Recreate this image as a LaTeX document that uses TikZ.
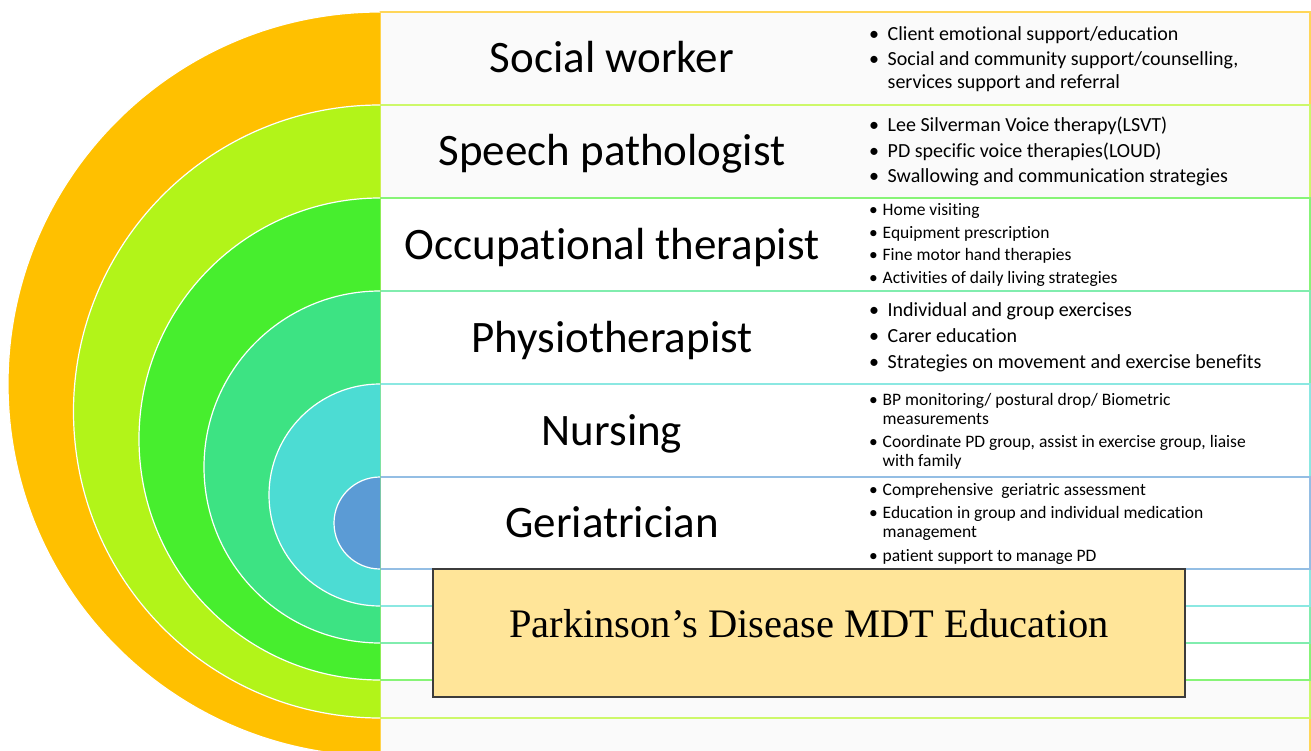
\documentclass[tikz,border=0pt]{standalone}
\usepackage{fontspec}
\setmainfont{Carlito}[Ligatures=NoCommon]
\newfontfamily\boxfont{Liberation Serif}
\definecolor{cOr}{HTML}{FFC000}
\definecolor{cLi}{HTML}{B2F419}
\definecolor{cGr}{HTML}{47EE2E}
\definecolor{cMg}{HTML}{3DE383}
\definecolor{cCy}{HTML}{4CDCD3}
\definecolor{cBl}{HTML}{5B9BD5}
\definecolor{boxfill}{HTML}{FFE599}
\definecolor{greyfill}{HTML}{FAFAFA}
\definecolor{boxline}{HTML}{3C3C3C}
\newlength\bulw
\newcommand\bul{\makebox[\bulw][l]{\textbullet}}
\newcommand\cont{\hspace*{\bulw}}
\newcommand\semi[3]{%
  \fill[#1] (380,-#2) arc[start angle=90,end angle=270,radius=#3] -- cycle;
  \draw[white,line width=1.2pt] (380,-#2) arc[start angle=90,end angle=270,radius=#3];}
\tikzset{
  band/.style={draw=#1!65!white, line width=1.5pt},
  title/.style={anchor=base, inner sep=0pt, font=\fontsize{45}{54}\selectfont},
  bigl/.style={anchor=base west, inner sep=0pt, font=\fontsize{20}{22.6}\selectfont},
  smalll/.style={anchor=base west, inner sep=0pt, font=\fontsize{17.5}{19}\selectfont},
  mdtbox/.style={draw=boxline, line width=1.6pt, fill=boxfill, minimum width=752pt, minimum height=128pt, inner sep=0pt}
}
\begin{document}
\begin{tikzpicture}[x=1pt,y=1pt]
\useasboundingbox (0,0) rectangle (1311,-751);
\fill[white] (0,0) rectangle (1311,-751);
% bands
\draw[band=cOr, fill=greyfill] (380,-12) rectangle (1310,-756);
\draw[band=cLi, fill=greyfill] (380,-105) rectangle (1310,-718);
\draw[band=cGr, fill=white] (380,-198) rectangle (1310,-680);
\draw[band=cMg, fill=white] (380,-291) rectangle (1310,-643);
\draw[band=cCy, fill=white] (380,-384) rectangle (1310,-606);
\draw[band=cBl, fill=white] (380,-477) rectangle (1310,-569);
% semicircles
\semi{cOr}{12}{372}
\semi{cLi}{105}{306.5}
\semi{cGr}{198}{241}
\semi{cMg}{291}{176}
\semi{cCy}{384}{111}
\semi{cBl}{477}{46}
% titles
\node[title] (t1) at (612,-73) {Social worker};
\node[title] (t2) at (612,-166) {Speech pathologist};
\node[title] (t3) at (612,-259) {Occupational therapist};
\node[title] (t4) at (612,-352) {Physiotherapist};
\node[title] (t5) at (612,-445) {Nursing};
\node[title] (t6) at (612,-537.5) {Geriatrician};
% bullets
\setlength\bulw{18.5pt}
\node[bigl] (b1) at (869,-40.7) {\begin{tabular}[t]{@{}l@{}}
\bul Client emotional support/education\\[2.5pt]
\bul Social and community support/counselling,\\
\cont services support and referral
\end{tabular}};
\node[bigl] (b2) at (869,-131.7) {\begin{tabular}[t]{@{}l@{}}
\bul Lee Silverman Voice therapy(LSVT)\\[3pt]
\bul PD specific voice therapies(LOUD)\\[3pt]
\bul Swallowing and communication strategies
\end{tabular}};
\node[bigl] (b4) at (869,-316.7) {\begin{tabular}[t]{@{}l@{}}
\bul Individual and group exercises\\[3.4pt]
\bul Carer education\\[3.4pt]
\bul Strategies on movement and exercise benefits
\end{tabular}};
\setlength\bulw{13.5pt}
\node[smalll] (b3) at (869,-215.7) {\begin{tabular}[t]{@{}l@{}}
\bul Home visiting\\[3.5pt]
\bul Equipment prescription\\[3.5pt]
\bul Fine motor hand therapies\\[3.5pt]
\bul Activities of daily living strategies
\end{tabular}};
\node[smalll] (b5) at (869,-405) {\begin{tabular}[t]{@{}l@{}}
\bul BP monitoring/ postural drop/ Biometric\\
\cont measurements\\[4.5pt]
\bul Coordinate PD group, assist in exercise group, liaise\\
\cont with family
\end{tabular}};
\node[smalll] (b6) at (869,-495) {\begin{tabular}[t]{@{}l@{}}
\bul Comprehensive\ \ geriatric assessment\\[4.5pt]
\bul Education in group and individual medication\\
\cont management\\[4.5pt]
\bul patient support to manage PD
\end{tabular}};
% central box
\node[mdtbox] (mdt) at (809,-633) {};
\node[anchor=base, inner sep=0pt, font=\boxfont\fontsize{40.5}{48}\selectfont] (mdtt) at (809,-637) {Parkinson’s Disease MDT Education};
\end{tikzpicture}
\end{document}
